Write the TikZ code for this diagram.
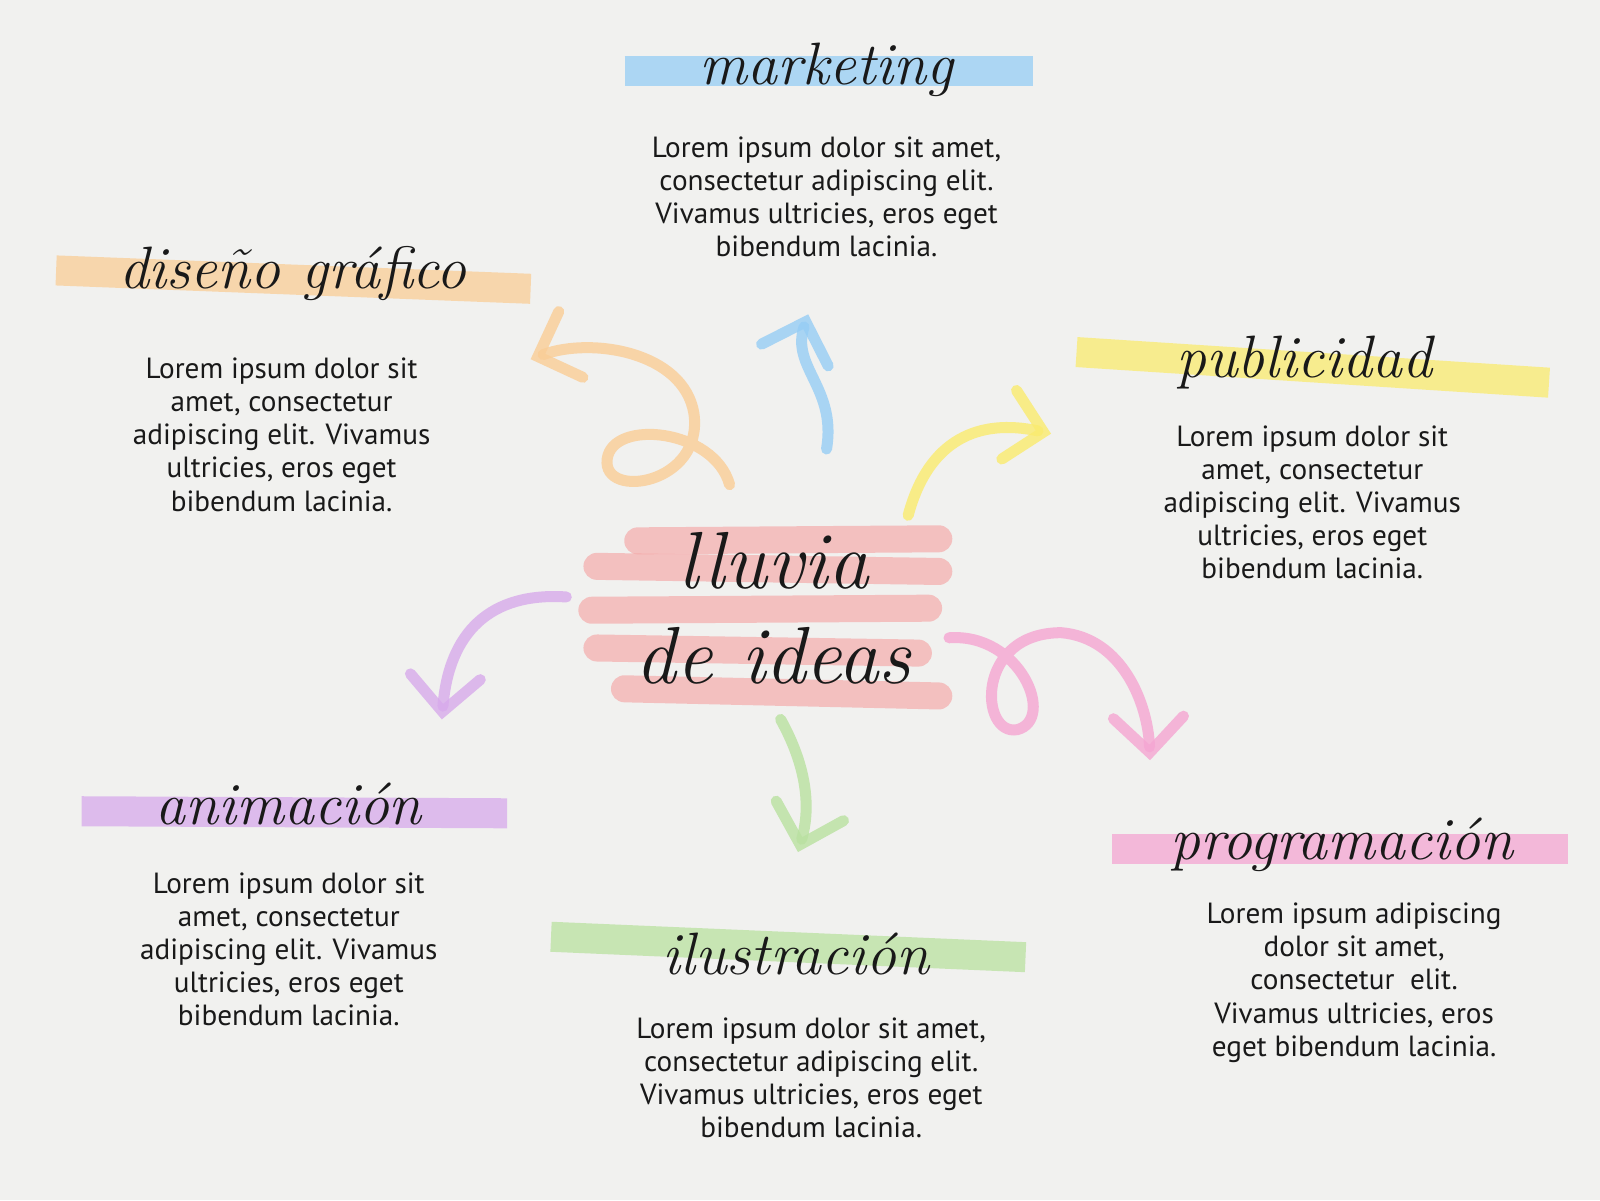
\documentclass[tikz,border=0pt]{standalone}
\usepackage{fontspec}
\setmainfont{PT Sans}
\newfontfamily\handfont{Latin Modern Roman}
\usetikzlibrary{arrows.meta}
\definecolor{paper}{RGB}{241,241,239}
\definecolor{hlblue}{RGB}{150,205,245}
\definecolor{hlorange}{RGB}{250,205,150}
\definecolor{hlyellow}{RGB}{250,235,110}
\definecolor{hlpink}{RGB}{245,160,160}
\definecolor{hlpurple}{RGB}{215,170,235}
\definecolor{hlgreen}{RGB}{185,225,160}
\definecolor{hlmagenta}{RGB}{245,165,210}
\definecolor{ink}{RGB}{25,25,25}

\tikzset{
  marker/.style={line width=0.3cm, line cap=butt, opacity=0.75},
  swirl/.style={line width=0.11cm, line cap=round, opacity=0.8, -{Straight Barb[length=0.35cm, width=0.7cm, line cap=round]}},
  title/.style={font=\handfont\itshape\fontsize{17}{18}\selectfont, text=ink},
  body/.style={font=\fontsize{8.3}{9.4}\selectfont, text=ink, align=center}
}

\begin{document}
\begin{tikzpicture}[x=0.0102cm, y=-0.0102cm]
    \useasboundingbox (0,0) rectangle (1568,1176);
    \fill[paper] (0,0) rectangle (1568,1176);

    % marketing
    \draw[marker, hlblue] (612,70) -- (1012,70);
    \node[title] (marketing) at (810,68) {marketing};
    \node[body] (marketingtxt) at (810,193) {Lorem ipsum dolor sit amet,\\consectetur adipiscing elit.\\Vivamus ultricies, eros eget\\bibendum lacinia.};

    % diseño gráfico
    \draw[marker, hlorange] (55,265) -- (520,283);
    \node[title] (diseno) at (287,268) {diseño gráfico};
    \node[body] (disenotxt) at (276,426) {Lorem ipsum dolor sit\\amet, consectetur\\adipiscing elit. Vivamus\\ultricies, eros eget\\bibendum lacinia.};

    % publicidad
    \draw[marker, hlyellow] (1055,345) -- (1518,375);
    \node[title] (publicidad) at (1278,355) {publicidad};
    \node[body] (publicidadtxt) at (1286,492) {Lorem ipsum dolor sit\\amet, consectetur\\adipiscing elit. Vivamus\\ultricies, eros eget\\bibendum lacinia.};

    % centro
    \foreach \ya/\yb/\xa/\xb in {530/528/625/920, 555/560/585/920, 598/596/580/910, 635/640/585/900, 675/682/612/920}
        \draw[marker, hlpink, opacity=0.6, line width=0.27cm, line cap=round] (\xa,\ya) -- (\xb,\yb);
    \node[title, font=\handfont\itshape\fontsize{23}{27}\selectfont, align=center] (centro) at (758,596) {lluvia\\de ideas};

    % animación
    \draw[marker, hlpurple] (80,795) -- (497,797);
    \node[title] (animacion) at (283,788) {animación};
    \node[body] (animaciontxt) at (283,930) {Lorem ipsum dolor sit\\amet, consectetur\\adipiscing elit. Vivamus\\ultricies, eros eget\\bibendum lacinia.};

    % ilustración
    \draw[marker, hlgreen] (540,918) -- (1005,938);
    \node[title] (ilustracion) at (780,935) {ilustración};
    \node[body] (ilustraciontxt) at (795,1056) {Lorem ipsum dolor sit amet,\\consectetur adipiscing elit.\\Vivamus ultricies, eros eget\\bibendum lacinia.};

    % programación
    \draw[marker, hlmagenta] (1090,832) -- (1537,832);
    \node[title] (programacion) at (1315,828) {programación};
    \node[body] (programaciontxt) at (1327,963) {Lorem ipsum adipiscing\\dolor sit amet,\\consectetur \ elit.\\Vivamus ultricies, eros\\eget bibendum lacinia.};

    % flechas
    \draw[swirl, hlorange] (715,475) .. controls (700,420) and (600,410) .. (595,450)
        .. controls (590,490) and (690,475) .. (680,405)
        .. controls (670,345) and (580,330) .. (520,352);
    \draw[swirl, hlblue] (810,440) .. controls (820,380) and (775,360) .. (792,308);
    \draw[swirl, hlyellow] (890,505) .. controls (910,430) and (960,410) .. (1030,425);
    \draw[swirl, hlpurple] (555,585) .. controls (480,580) and (440,620) .. (433,705);
    \draw[swirl, hlgreen] (765,705) .. controls (790,750) and (795,790) .. (782,835);
    \draw[swirl, hlmagenta] (930,625) .. controls (1000,620) and (1035,705) .. (997,715)
        .. controls (960,722) and (955,620) .. (1040,620)
        .. controls (1100,625) and (1125,690) .. (1127,745);
\end{tikzpicture}
\end{document}
